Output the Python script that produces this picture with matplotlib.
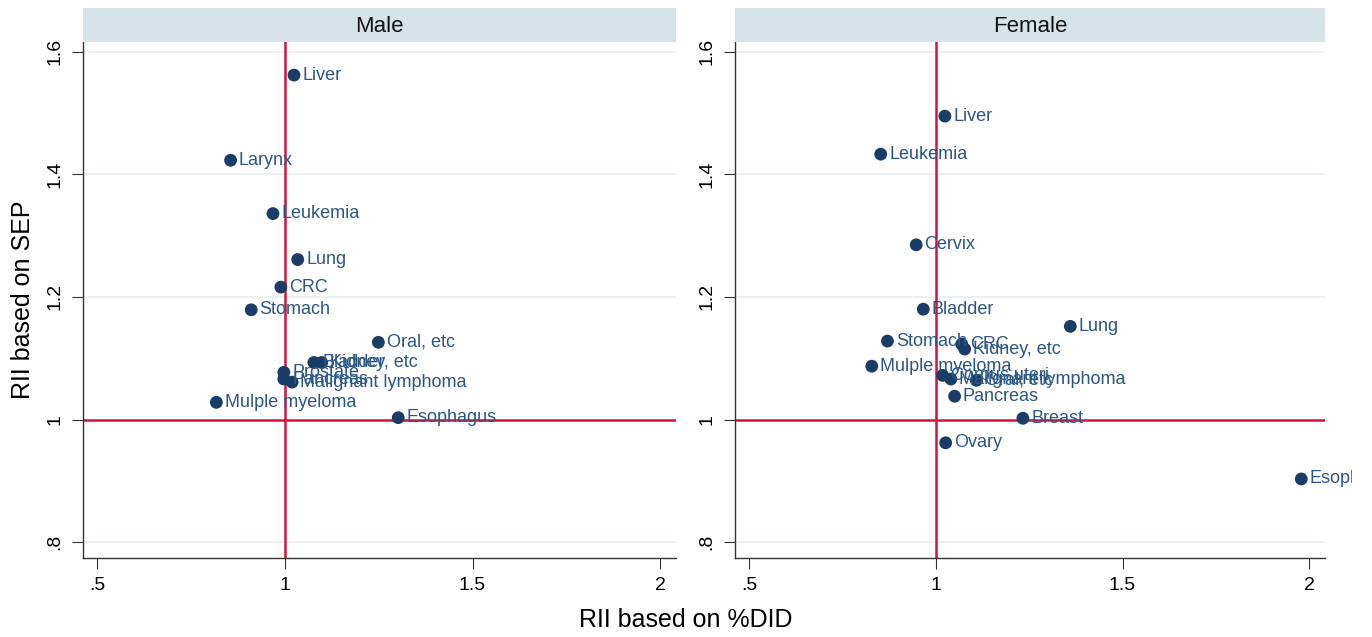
import numpy as np
import matplotlib.pyplot as plt
from matplotlib.transforms import Bbox, TransformedBbox

plt.rcParams['font.family'] = ['Liberation Sans', 'DejaVu Sans']

# Male panel
male_sites = ["Liver", "Larynx", "Leukemia", "Lung", "CRC", "Stomach", "Oral, etc",
              "Bladder", "Kidney, etc", "Prostate", "Pancreas", "Malignant lymphoma",
              "Mulple myeloma", "Esophagus"]
male_x = [1.024, 0.855, 0.968, 1.034, 0.989, 0.910, 1.249,
          1.077, 1.098, 0.997, 0.997, 1.019, 0.817, 1.302]
male_y = [1.562, 1.423, 1.336, 1.261, 1.216, 1.179, 1.126,
          1.093, 1.093, 1.077, 1.066, 1.061, 1.028, 1.003]

# Female panel
female_sites = ["Liver", "Leukemia", "Cervix", "Bladder", "Lung", "Stomach", "CRC",
                "Kidney, etc", "Mulple myeloma", "Corpus uteri", "Malignant lymphoma",
                "Oral, etc", "Pancreas", "Breast", "Ovary", "Esophagus"]
female_x = [1.024, 0.852, 0.947, 0.966, 1.360, 0.870, 1.069,
            1.077, 0.828, 1.018, 1.040, 1.108, 1.050, 1.233, 1.026, 1.979]
female_y = [1.495, 1.433, 1.285, 1.180, 1.152, 1.128, 1.123,
            1.115, 1.087, 1.072, 1.066, 1.064, 1.038, 1.002, 0.962, 0.903]

xticks = [0.5, 1, 1.5, 2]
xticklabels = [".5", "1", "1.5", "2"]
yticks = [0.8, 1.0, 1.2, 1.4, 1.6]
yticklabels = [".8", "1", "1.2", "1.4", "1.6"]

navy = "#1a3d68"
labcol = "#2b5687"
red = "#d4143c"
W, H = 1372, 637

fig = plt.figure(figsize=(13.72, 6.37), dpi=100)
clip = TransformedBbox(Bbox([[0, 0], [1352 / W, 1]]), fig.transFigure)

panels = [("Male", male_sites, male_x, male_y, 83, 676),
          ("Female", female_sites, female_x, female_y, 735, 1325)]
top, bottom = 42, 558

for i, (title, sites, xs, ys, x0, x1) in enumerate(panels):
    ax = fig.add_axes([x0 / W, 1 - bottom / H, (x1 - x0) / W, (bottom - top) / H])
    ax.set_xlim(0.4615, 2.0425)
    ax.set_ylim(0.774, 1.616)
    for y in yticks:
        ax.axhline(y, color="#e6eff2", lw=1.2, zorder=0)
    ax.axhline(1, color=red, lw=1.8, zorder=1)
    ax.axvline(1, color=red, lw=1.8, zorder=1)
    ax.scatter(xs, ys, s=85, color=navy, zorder=3, edgecolors="none")
    for s, x, y in zip(sites, xs, ys):
        t = ax.annotate(s, (x, y), xytext=(6, 0), textcoords="offset points",
                        va="center", ha="left", fontsize=13, color=labcol,
                        annotation_clip=False, zorder=4)
        t.set_clip_on(True)
        t.set_clip_box(clip)
    ax.set_xticks(xticks)
    ax.set_xticklabels(xticklabels)
    ax.set_yticks(yticks)
    ax.set_yticklabels(yticklabels, rotation=90, va="center")
    ax.tick_params(axis="both", labelsize=14, length=8, color="#333333", pad=6)
    for sp in ["top", "right"]:
        ax.spines[sp].set_visible(False)
    for sp in ["left", "bottom"]:
        ax.spines[sp].set_color("#333333")
        ax.spines[sp].set_linewidth(1)
    if i == 0:
        ax.set_ylabel("RII based on SEP", fontsize=18, labelpad=8)

    # strip header
    sax = fig.add_axes([x0 / W, 1 - top / H, (x1 - x0) / W, 34 / H])
    sax.set_facecolor("#d6e3e9")
    sax.set_xticks([])
    sax.set_yticks([])
    for sp in sax.spines.values():
        sp.set_visible(False)
    sax.text(0.5, 0.45, title, ha="center", va="center", fontsize=16,
             color="#111111", transform=sax.transAxes)

fig.text(686 / W, 1 - 620 / H, "RII based on %DID", ha="center", va="center",
         fontsize=18)

fig.savefig("out.png", dpi=100)
